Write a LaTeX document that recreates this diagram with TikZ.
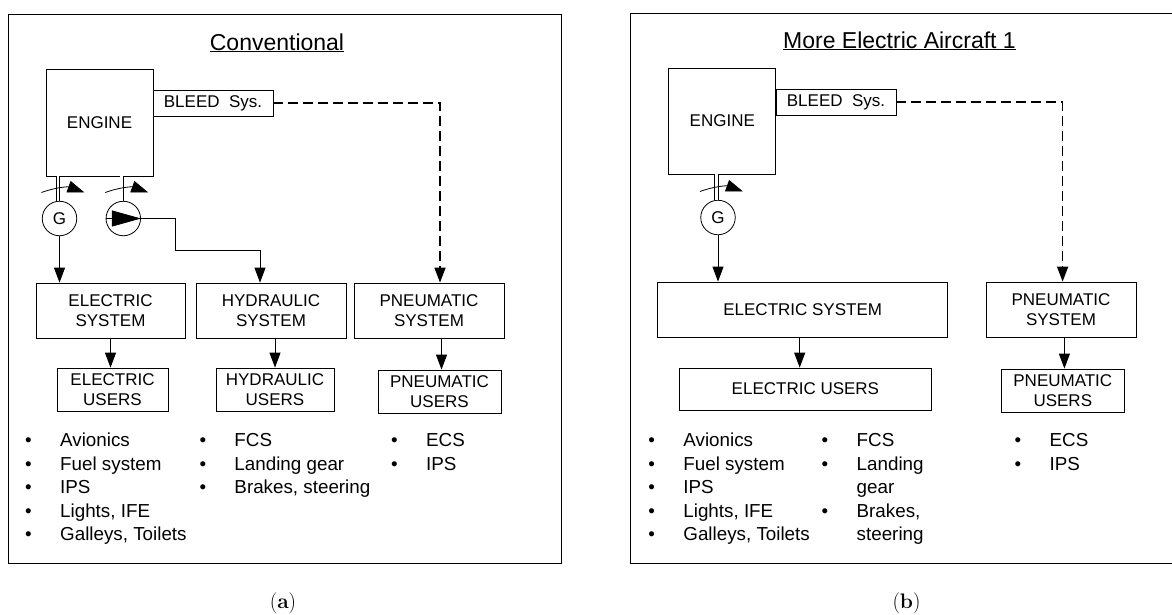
\documentclass[tikz,border=0pt]{standalone}
\usepackage{fontspec}
\setsansfont{Liberation Sans}
\renewcommand{\familydefault}{\sfdefault}
\usetikzlibrary{arrows.meta,positioning,calc}

\newcommand{\bulletcol}[1]{\begin{tabular}[t]{@{}p{35pt}@{}l@{}}#1\end{tabular}}

\tikzset{
  blk/.style={draw, line width=0.8pt, inner sep=0pt, align=center, font=\fontsize{17}{20.7}\selectfont},
  mach/.style={circle, draw, line width=0.8pt, inner sep=0pt, minimum size=34.5pt, font=\fontsize{17}{20}\selectfont},
  flow/.style={line width=0.9pt, -{Triangle[length=15pt,width=11pt]}},
  bleedflow/.style={line width=1.6pt, dash pattern=on 10pt off 5pt, -{Triangle[length=15pt,width=11pt]}},
  spin/.style={line width=0.8pt, -{Triangle[length=17pt,width=12pt]}},
  shaft/.style={double, double distance=2.8pt, line width=0.8pt},
  panel/.style={line width=0.8pt},
  ttl/.style={anchor=base, inner sep=0pt, font=\fontsize{23}{27}\selectfont},
  lst/.style={anchor=base west, inner sep=0pt, font=\fontsize{18.8}{23.5}\selectfont},
  subcap/.style={anchor=base, inner sep=0pt, font=\fontsize{21}{25}\rmfamily\selectfont}
}

\begin{document}
\begin{tikzpicture}[x=1pt, y=-1pt]
\useasboundingbox (0,0) rectangle (1172,614);

% (a) conventional
\draw[panel] (8,14) rectangle (561,563);
\node[ttl] (TA) at (277,50) {\underline{Conventional}};
\node[blk, minimum width=107pt, minimum height=107pt] (EngA) at (99.5,122.5) {ENGINE};
\node[blk, minimum width=120pt, minimum height=26pt] (BleedA) at (213,103) {BLEED\ \ Sys.};
\node[mach] (GA) at (59.5,218.5) {G};
\node[mach] (PA) at (123.3,218.5) {};
\node[blk, minimum width=149pt, minimum height=55pt] (ESA) at (110.5,310.5) {ELECTRIC\\SYSTEM};
\node[blk, minimum width=150pt, minimum height=55pt] (HSA) at (271,310.5) {HYDRAULIC\\SYSTEM};
\node[blk, minimum width=150pt, minimum height=55pt] (PSA) at (429,310.5) {PNEUMATIC\\SYSTEM};
\node[blk, minimum width=111pt, minimum height=43pt] (EUA) at (112.5,389.5) {ELECTRIC\\USERS};
\node[blk, minimum width=118pt, minimum height=43pt] (HUA) at (275,389.5) {HYDRAULIC\\USERS};
\node[blk, minimum width=123pt, minimum height=43pt] (PUA) at (439.5,391.5) {PNEUMATIC\\USERS};
\coordinate (HB) at (175,250);

\draw[shaft] ([xshift=-1.5pt]GA.north) -- ([xshift=-1.5pt]GA.north |- EngA.south);
\draw[shaft] ([xshift=-1.5pt]PA.north) -- ([xshift=-1.5pt]PA.north |- EngA.south);
\draw[spin] ([shift={(-18,-26)}]GA.center) to[bend left=20] ([shift={(25,-26)}]GA.center);
\draw[spin] ([shift={(-18,-26)}]PA.center) to[bend left=20] ([shift={(25,-26)}]PA.center);
\draw[line width=0.8pt, -{Triangle[length=29pt,width=16pt]}] (PA.west) -- (PA.east);

\draw[flow] (GA.south) -- (GA.south |- ESA.north);
\draw[flow] (PA.east) -| (HB) -| ([xshift=-11pt]HSA.north);
\draw[bleedflow] (BleedA.east) -| ([xshift=11pt]PSA.north);
\draw[flow] (ESA.south) -- (ESA.south |- EUA.north);
\draw[flow] (HUA.north |- HSA.south) -- (HUA.north);
\draw[flow] ([xshift=2pt]PUA.north |- PSA.south) -- ([xshift=2pt]PUA.north);

\node[lst] (LEA) at (25,446.7) {\bulletcol{• & Avionics\\ • & Fuel system\\ • & IPS\\ • & Lights, IFE\\ • & Galleys, Toilets}};
\node[lst] (LHA) at (199.3,446.7) {\bulletcol{• & FCS\\ • & Landing gear\\ • & Brakes, steering}};
\node[lst] (LPA) at (391,446.7) {\bulletcol{• & ECS\\ • & IPS}};
\node[subcap] (CA) at (283,608) {(\textbf{a})};

% (b) more electric aircraft
\draw[panel] (630.3,13) rectangle (1185,563);
\node[ttl] (TB) at (899.5,48) {\underline{More Electric Aircraft 1}};
\node[blk, minimum width=107pt, minimum height=106pt] (EngB) at (722.3,121) {ENGINE};
\node[blk, minimum width=120pt, minimum height=26pt] (BleedB) at (836,102) {BLEED\ \ Sys.};
\node[mach] (GB) at (718,217.5) {G};
\node[blk, minimum width=290pt, minimum height=55pt] (ESB) at (802.7,309.5) {ELECTRIC SYSTEM};
\node[blk, minimum width=150pt, minimum height=55pt] (PSB) at (1061,309.5) {PNEUMATIC\\SYSTEM};
\node[blk, minimum width=252pt, minimum height=42pt] (EUB) at (805.4,389) {ELECTRIC USERS};
\node[blk, minimum width=123pt, minimum height=43pt] (PUB) at (1062.8,390.5) {PNEUMATIC\\USERS};

\draw[shaft] ([xshift=-1.5pt]GB.north) -- ([xshift=-1.5pt]GB.north |- EngB.south);
\draw[spin] ([shift={(-18,-26)}]GB.center) to[bend left=20] ([shift={(25,-26)}]GB.center);

\draw[flow] (GB.south) -- (GB.south |- ESB.north);
\draw[bleedflow] (BleedB.east) -| ([xshift=1.6pt]PSB.north);
\draw[flow] ([xshift=-3pt]ESB.south) -- ([xshift=-3pt]ESB.south |- EUB.north);
\draw[flow] ([xshift=1.6pt]PUB.north |- PSB.south) -- ([xshift=1.6pt]PUB.north);

\node[lst] (LEB) at (648.2,446.7) {\bulletcol{• & Avionics\\ • & Fuel system\\ • & IPS\\ • & Lights, IFE\\ • & Galleys, Toilets}};
\node[lst] (LHB) at (821.5,446.7) {\bulletcol{• & FCS\\ • & Landing\\ & gear\\ • & Brakes,\\ & steering}};
\node[lst] (LPB) at (1014.5,446.7) {\bulletcol{• & ECS\\ • & IPS}};
\node[subcap] (CB) at (906.5,608) {(\textbf{b})};
\end{tikzpicture}
\end{document}
